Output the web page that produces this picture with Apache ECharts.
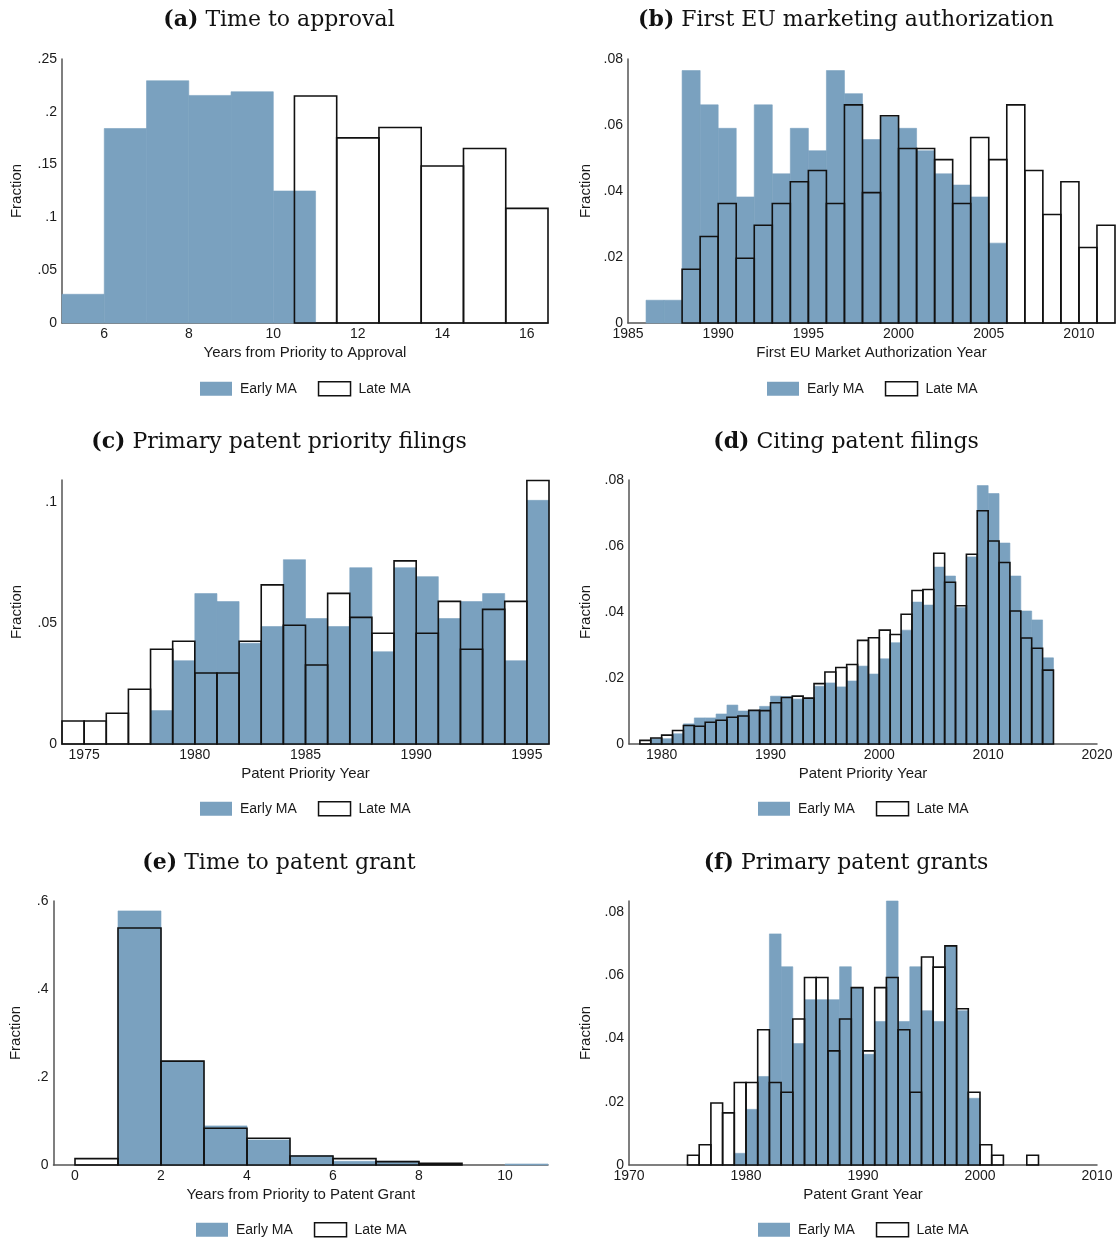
<!DOCTYPE html>
<html>
<head>
<meta charset="utf-8">
<script src="https://cdn.jsdelivr.net/npm/echarts@6/dist/echarts.min.js"></script>
<style>
html,body{margin:0;padding:0;background:#fff;}
#chart{width:1118px;height:1239px;}
</style>
</head>
<body>
<div id="chart"></div>
<script>
// ---------- DATA ----------
// (a) Time to approval (years), bin width 1
var aEarlyStart = [5, 6, 7, 8, 9, 10];
var aEarly      = [0.0272, 0.1842, 0.2294, 0.2155, 0.2190, 0.1250];
var aLateStart  = [10.5, 11.5, 12.5, 13.5, 14.5, 15.5];
var aLate       = [0.2149, 0.1753, 0.1851, 0.1487, 0.1652, 0.1085];

// (b) First EU marketing authorization year, bin width 1
var bEarlyStart = [1986, 1987, 1988, 1989, 1990, 1991, 1992, 1993, 1994, 1995, 1996, 1997, 1998, 1999, 2000, 2001, 2002, 2003, 2004, 2005];
var bEarly      = [0.0069, 0.0069, 0.0765, 0.0661, 0.0590, 0.0382, 0.0661, 0.0452, 0.0590, 0.0522, 0.0765, 0.0695, 0.0556, 0.0625, 0.0590, 0.0522, 0.0452, 0.0418, 0.0382, 0.0242];
var bLateStart  = [1988, 1989, 1990, 1991, 1992, 1993, 1994, 1995, 1996, 1997, 1998, 1999, 2000, 2001, 2002, 2003, 2004, 2005, 2006, 2007, 2008, 2009, 2010, 2011];
var bLate       = [0.0163, 0.0262, 0.0362, 0.0196, 0.0296, 0.0362, 0.0428, 0.0462, 0.0362, 0.0661, 0.0395, 0.0628, 0.0529, 0.0529, 0.0495, 0.0362, 0.0562, 0.0495, 0.0661, 0.0462, 0.0329, 0.0428, 0.0229, 0.0296];

// (c) Primary patent priority filings, bin width 1
var cEarlyStart = [1978, 1979, 1980, 1981, 1982, 1983, 1984, 1985, 1986, 1987, 1988, 1989, 1990, 1991, 1992, 1993, 1994, 1995];
var cEarly      = [0.0138, 0.0344, 0.0621, 0.0588, 0.0416, 0.0485, 0.0761, 0.0518, 0.0485, 0.0728, 0.0381, 0.0728, 0.0691, 0.0518, 0.0588, 0.0621, 0.0344, 0.1006];
var cLateStart  = [1974, 1975, 1976, 1977, 1978, 1979, 1980, 1981, 1982, 1983, 1984, 1985, 1986, 1987, 1988, 1989, 1990, 1991, 1992, 1993, 1994, 1995];
var cLate       = [0.0095, 0.0095, 0.0127, 0.0226, 0.0391, 0.0424, 0.0293, 0.0293, 0.0424, 0.0657, 0.0490, 0.0326, 0.0622, 0.0523, 0.0457, 0.0756, 0.0457, 0.0589, 0.0391, 0.0556, 0.0589, 0.1088];

// (d) Citing patent filings, bin width 1
var dEarlyStart = [1979, 1980, 1981, 1982, 1983, 1984, 1985, 1986, 1987, 1988, 1989, 1990, 1991, 1992, 1993, 1994, 1995, 1996, 1997, 1998, 1999, 2000, 2001, 2002, 2003, 2004, 2005, 2006, 2007, 2008, 2009, 2010, 2011, 2012, 2013, 2014, 2015];
var dEarly      = [0.0016, 0.0016, 0.0031, 0.0061, 0.0079, 0.0079, 0.0091, 0.0118, 0.0100, 0.0102, 0.0114, 0.0145, 0.0144, 0.0136, 0.0139, 0.0175, 0.0185, 0.0173, 0.0191, 0.0236, 0.0212, 0.0258, 0.0307, 0.0345, 0.0430, 0.0421, 0.0536, 0.0509, 0.0414, 0.0567, 0.0783, 0.0759, 0.0609, 0.0509, 0.0403, 0.0376, 0.0261];
var dLateStart  = [1978, 1979, 1980, 1981, 1982, 1983, 1984, 1985, 1986, 1987, 1988, 1989, 1990, 1991, 1992, 1993, 1994, 1995, 1996, 1997, 1998, 1999, 2000, 2001, 2002, 2003, 2004, 2005, 2006, 2007, 2008, 2009, 2010, 2011, 2012, 2013, 2014, 2015];
var dLate       = [0.0011, 0.0018, 0.0027, 0.0041, 0.0056, 0.0054, 0.0066, 0.0072, 0.0081, 0.0085, 0.0102, 0.0101, 0.0125, 0.0141, 0.0145, 0.0139, 0.0183, 0.0218, 0.0232, 0.0241, 0.0314, 0.0322, 0.0345, 0.0332, 0.0393, 0.0465, 0.0468, 0.0578, 0.0490, 0.0419, 0.0575, 0.0707, 0.0615, 0.0550, 0.0403, 0.0321, 0.0290, 0.0224];

// (e) Time to patent grant (years), bin width 1
var eEarlyStart = [1, 2, 3, 4, 5, 6, 7, 10];
var eEarly      = [0.5775, 0.2360, 0.0889, 0.0570, 0.0213, 0.0084, 0.0084, 0.0023];
var eLateStart  = [0, 1, 2, 3, 4, 5, 6, 7, 8];
var eLate       = [0.0144, 0.5386, 0.2360, 0.0836, 0.0608, 0.0205, 0.0144, 0.0076, 0.0038];

// (f) Primary patent grants, bin width 1
var fEarlyStart = [1979, 1980, 1981, 1982, 1983, 1984, 1985, 1986, 1987, 1988, 1989, 1990, 1991, 1992, 1993, 1994, 1995, 1996, 1997, 1998, 1999];
var fEarly      = [0.0037, 0.0176, 0.0280, 0.0731, 0.0627, 0.0384, 0.0523, 0.0523, 0.0523, 0.0627, 0.0561, 0.0350, 0.0454, 0.0835, 0.0454, 0.0627, 0.0488, 0.0454, 0.0693, 0.0488, 0.0211];
var fLateStart  = [1975, 1976, 1977, 1978, 1979, 1980, 1981, 1982, 1983, 1984, 1985, 1986, 1987, 1988, 1989, 1990, 1991, 1992, 1993, 1994, 1995, 1996, 1997, 1998, 1999, 2000, 2001, 2004];
var fLate       = [0.0031, 0.0064, 0.0196, 0.0165, 0.0261, 0.0261, 0.0428, 0.0261, 0.0230, 0.0462, 0.0593, 0.0593, 0.0361, 0.0462, 0.0561, 0.0361, 0.0561, 0.0593, 0.0428, 0.0230, 0.0658, 0.0626, 0.0693, 0.0494, 0.0230, 0.0064, 0.0031, 0.0031];

var panelTitles = ['Time to approval', 'First EU marketing authorization', 'Primary patent priority filings', 'Citing patent filings', 'Time to patent grant', 'Primary patent grants'];
var panelLetters = ['(a)', '(b)', '(c)', '(d)', '(e)', '(f)'];
var xNames = ['Years from Priority to Approval', 'First EU Market Authorization Year', 'Patent Priority Year', 'Patent Priority Year', 'Years from Priority to Patent Grant', 'Patent Grant Year'];
var legendNames = ['Early MA', 'Late MA'];

// ---------- LAYOUT / STYLE ----------
var BLUE = '#7aa1bf';
var SANS = '"Liberation Sans", Arial, sans-serif';
var SERIF = '"DejaVu Serif", serif';
var TXT = '#1a1a1a';
var AXC = '#555';

var panels = [
  {grid:{left:62, top:59, width:486, height:264}, x:{min:5, max:16.5, interval:1, step:2}, y:{max:0.25, interval:0.05}, nameGapY:38, title:{x:279, y:9}, legend:{left:200, top:381}},
  {grid:{left:628, top:59, width:487, height:264}, x:{min:1985, max:2012, interval:1, step:5}, y:{max:0.08, interval:0.02}, nameGapY:35, title:{x:846, y:9}, legend:{left:767, top:381}},
  {grid:{left:62, top:480, width:487, height:264}, x:{min:1974, max:1996, interval:1, step:5}, y:{max:0.109, interval:0.05}, nameGapY:38, title:{x:279, y:431}, legend:{left:200, top:801}},
  {grid:{left:629, top:480, width:468, height:264}, x:{min:1977, max:2020, interval:1, step:10}, y:{max:0.08, interval:0.02}, nameGapY:36, title:{x:846, y:431}, legend:{left:758, top:801}},
  {grid:{left:53.5, top:901, width:494.5, height:264}, x:{min:-0.5, max:11, interval:0.5, step:2}, y:{max:0.6, interval:0.2}, nameGapY:30, title:{x:279, y:852}, legend:{left:196, top:1222}},
  {grid:{left:629, top:901, width:468, height:264}, x:{min:1970, max:2010, interval:10, step:10}, y:{max:0.0835, interval:0.02}, nameGapY:36, title:{x:846, y:852}, legend:{left:758, top:1222}}
];

var earlyStarts = [aEarlyStart, bEarlyStart, cEarlyStart, dEarlyStart, eEarlyStart, fEarlyStart];
var earlyVals   = [aEarly, bEarly, cEarly, dEarly, eEarly, fEarly];
var lateStarts  = [aLateStart, bLateStart, cLateStart, dLateStart, eLateStart, fLateStart];
var lateVals    = [aLate, bLate, cLate, dLate, eLate, fLate];
var BIN = 1;

function onStep(v, step) {
  var r = v / step;
  return Math.abs(r - Math.round(r)) < 1e-6;
}
function yFmt(step) {
  return function (v) {
    if (!onStep(v, step)) return '';
    if (Math.abs(v) < 1e-9) return '0';
    return String(+v.toFixed(4)).replace(/^0\./, '.');
  };
}
function xFmt(step) {
  return function (v) {
    if (!onStep(v, step)) return '';
    return String(Math.round(v));
  };
}

function histSeries(idx, name, starts, vals, kind) {
  var data = starts.map(function (s, i) { return [s, s + BIN, vals[i]]; });
  return {
    type: 'custom',
    name: name,
    xAxisIndex: idx,
    yAxisIndex: idx,
    data: data,
    encode: {x: [0, 1], y: 2},
    z: kind === 'late' ? 3 : 2,
    silent: true,
    renderItem: function (params, api) {
      var p0 = api.coord([api.value(0), api.value(2)]);
      var p1 = api.coord([api.value(1), 0]);
      return {
        type: 'rect',
        shape: {x: p0[0], y: p0[1], width: p1[0] - p0[0], height: p1[1] - p0[1]},
        style: kind === 'early'
          ? {fill: BLUE, stroke: BLUE, lineWidth: 0.6}
          : {fill: 'none', stroke: '#111', lineWidth: 1.6}
      };
    }
  };
}

var grids = [], xAxes = [], yAxes = [], series = [], titles = [], legends = [];
panels.forEach(function (p, i) {
  grids.push(p.grid);
  xAxes.push({
    type: 'value', gridIndex: i, min: p.x.min, max: p.x.max, interval: p.x.interval,
    name: xNames[i], nameLocation: 'middle', nameGap: 22,
    nameTextStyle: {fontFamily: SANS, fontSize: 15, color: TXT},
    axisLine: {show: true, onZero: false, lineStyle: {color: AXC, width: 1.5}},
    axisTick: {show: false}, splitLine: {show: false},
    axisLabel: {formatter: xFmt(p.x.step), fontFamily: SANS, fontSize: 14, color: TXT, margin: 4, showMinLabel: true, showMaxLabel: true}
  });
  yAxes.push({
    type: 'value', gridIndex: i, min: 0, max: p.y.max, interval: p.y.interval,
    name: 'Fraction', nameLocation: 'middle', nameGap: p.nameGapY,
    nameTextStyle: {fontFamily: SANS, fontSize: 15, color: TXT},
    axisLine: {show: true, onZero: false, lineStyle: {color: AXC, width: 1.5}},
    axisTick: {show: false}, splitLine: {show: false},
    axisLabel: {formatter: yFmt(p.y.interval), fontFamily: SANS, fontSize: 14, color: TXT, margin: 5}
  });
  series.push(histSeries(i, legendNames[0], earlyStarts[i], earlyVals[i], 'early'));
  series.push(histSeries(i, legendNames[1], lateStarts[i], lateVals[i], 'late'));
  titles.push({
    text: '{b|' + panelLetters[i] + '} ' + panelTitles[i],
    left: p.title.x, top: p.title.y, textAlign: 'center', padding: 0,
    textStyle: {fontFamily: SERIF, fontSize: 22, fontWeight: 'normal', color: '#111',
      rich: {b: {fontFamily: SERIF, fontSize: 22, fontWeight: 'bold', color: '#111'}}}
  });
  legends.push({
    left: p.legend.left, top: p.legend.top, padding: 0, itemGap: 21,
    itemWidth: 32, itemHeight: 14, selectedMode: false,
    textStyle: {fontFamily: SANS, fontSize: 14, color: TXT, padding: [0, 0, 0, 3]},
    data: [
      {name: legendNames[0], icon: 'rect', itemStyle: {color: BLUE, borderWidth: 0}},
      {name: legendNames[1], icon: 'rect', itemStyle: {color: '#fff', borderColor: '#111', borderWidth: 1.5}}
    ]
  });
});

var chart = echarts.init(document.getElementById('chart'), null, {renderer: 'canvas'});
chart.setOption({
  backgroundColor: '#fff',
  animation: false,
  title: titles,
  legend: legends,
  grid: grids,
  xAxis: xAxes,
  yAxis: yAxes,
  series: series
});
</script>
</body>
</html>
